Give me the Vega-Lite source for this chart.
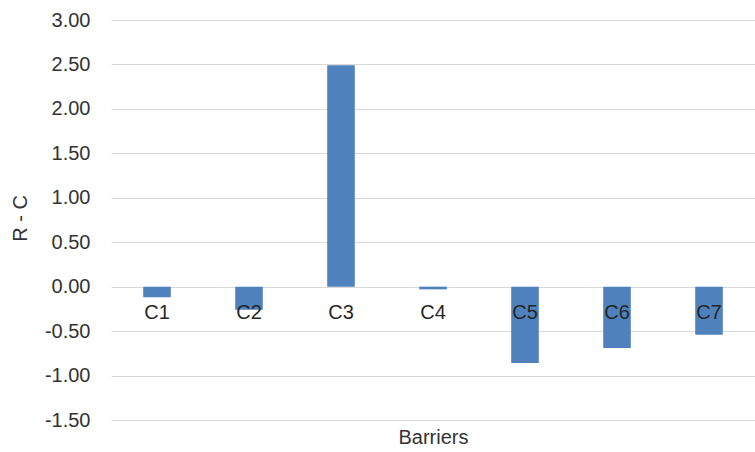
{
  "$schema": "https://vega.github.io/schema/vega-lite/v6.json",
  "width": 644,
  "height": 400,
  "autosize": {"type": "none"},
  "padding": {"left": 111, "top": 20, "right": 0, "bottom": 32},
  "background": "white",
  "config": {
    "view": {"stroke": null},
    "font": "Liberation Sans",
    "axis": {"labelFont": "Liberation Sans", "titleFont": "Liberation Sans"}
  },
  "data": {
    "values": [
      {"barrier": "C1", "rc": -0.12},
      {"barrier": "C2", "rc": -0.26},
      {"barrier": "C3", "rc": 2.49},
      {"barrier": "C4", "rc": -0.03},
      {"barrier": "C5", "rc": -0.86},
      {"barrier": "C6", "rc": -0.69},
      {"barrier": "C7", "rc": -0.54}
    ]
  },
  "encoding": {
    "x": {
      "field": "barrier",
      "type": "nominal",
      "sort": null,
      "scale": {"paddingInner": 0.7, "paddingOuter": 0.35},
      "axis": {
        "title": "Barriers",
        "labels": false,
        "ticks": false,
        "domain": false,
        "titleFontSize": 20,
        "titleFontWeight": "normal",
        "titleColor": "#333333",
        "titleBaseline": "middle",
        "titleY": 17
      }
    }
  },
  "layer": [
    {
      "mark": {"type": "bar", "color": "#4F81BD"},
      "encoding": {
        "y": {
          "field": "rc",
          "type": "quantitative",
          "scale": {"domain": [-1.5, 3], "nice": false, "zero": false},
          "axis": {
            "title": "R - C",
            "values": [-1.5, -1, -0.5, 0, 0.5, 1, 1.5, 2, 2.5, 3],
            "labelExpr": "replace(format(datum.value, '.2f'), '\u2212', '-')",
            "domain": false,
            "ticks": false,
            "labelPadding": 21,
            "labelFontSize": 20,
            "labelColor": "#333333",
            "gridColor": "#d9d9d9",
            "gridWidth": 1,
            "titleFontSize": 20,
            "titleFontWeight": "normal",
            "titleColor": "#333333",
            "titleAngle": -90,
            "titleBaseline": "middle",
            "titleAlign": "center",
            "titleX": -91,
            "titleY": 198
          }
        }
      }
    },
    {
      "mark": {"type": "text", "fontSize": 20, "color": "#262626", "baseline": "middle", "dy": 26},
      "encoding": {
        "y": {"datum": 0, "type": "quantitative"},
        "text": {"field": "barrier"}
      }
    }
  ]
}
